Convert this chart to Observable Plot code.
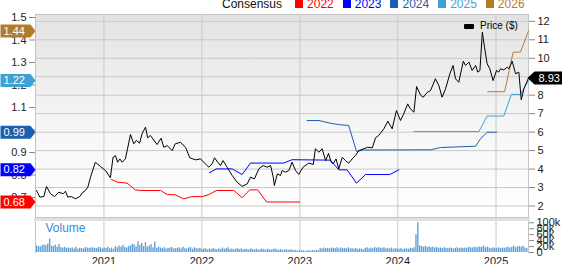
<!DOCTYPE html>
<html><head><meta charset="utf-8">
<script src="https://cdn.jsdelivr.net/npm/d3@7"></script>
<script src="https://cdn.jsdelivr.net/npm/@observablehq/plot@0.6"></script>
<style>
html,body{margin:0;padding:0;background:#fff;}
#chart{position:relative;width:562px;height:264px;overflow:hidden;font-family:"Liberation Sans",Arial,sans-serif;color:#222;}
#chart svg{position:absolute;left:0;top:0;}
.legend{position:absolute;top:-2px;left:222px;font-size:12px;line-height:12px;display:flex;align-items:center;white-space:nowrap;}
.legend .sw{display:inline-block;width:8px;height:8px;margin-right:4px;}
.legend .it{display:flex;align-items:center;margin-right:9px;}
.plegend{position:absolute;left:464px;top:20px;font-size:10px;line-height:12px;display:flex;align-items:center;white-space:nowrap;color:#000;}
.plegend .sw{display:inline-block;width:10px;height:5px;background:#000;margin-right:6px;border-radius:1px;}
</style>
</head><body>
<div id="chart"></div>
<script>
// ---------------- data ----------------
const seriesNames = ["2022","2023","2024","2025","2026"];
const seriesColors = ["#ff0000","#0000ff","#1c5fae","#3ea1d3","#b37c2b"];

const price = [
["2020-04-25",2.84],["2020-05-07",2.48],["2020-05-22",2.51],["2020-06-01",3.06],["2020-06-16",2.66],
["2020-07-01",2.51],["2020-07-17",2.75],["2020-08-02",2.66],["2020-08-11",2.80],["2020-08-19",2.48],
["2020-09-01",2.51],["2020-09-17",2.39],["2020-10-03",2.51],["2020-10-15",2.75],["2020-10-24",2.84],
["2020-11-02",3.02],["2020-11-12",3.56],["2020-11-30",4.37],["2020-12-19",4.14],["2021-01-07",3.92],
["2021-01-25",3.53],["2021-02-04",4.64],["2021-02-13",4.73],["2021-02-21",4.37],["2021-03-01",4.55],
["2021-03-10",4.37],["2021-03-22",4.55],["2021-04-10",5.87],["2021-04-22",5.37],["2021-05-02",5.55],
["2021-05-14",5.40],["2021-05-23",5.91],["2021-06-05",6.27],["2021-06-13",5.69],["2021-06-23",5.82],
["2021-07-18",5.33],["2021-08-02",5.67],["2021-08-12",5.18],["2021-08-25",5.27],["2021-09-12",5.00],
["2021-09-24",5.37],["2021-10-13",5.45],["2021-11-01",5.18],["2021-11-17",4.61],["2021-12-08",4.50],
["2021-12-27",4.55],["2022-01-14",4.28],["2022-01-27",4.10],["2022-02-08",4.28],["2022-02-17",4.61],
["2022-03-01",4.37],["2022-03-11",4.19],["2022-03-21",4.46],["2022-04-05",4.10],["2022-04-24",3.65],
["2022-05-12",3.29],["2022-05-31",3.06],["2022-06-19",3.20],["2022-07-01",3.56],["2022-07-16",3.47],
["2022-08-01",4.01],["2022-08-17",4.19],["2022-09-01",4.10],["2022-09-14",4.19],["2022-09-24",3.56],
["2022-09-28",3.11],["2022-10-09",3.74],["2022-10-21",3.65],["2022-10-27",3.92],["2022-11-08",3.83],
["2022-11-21",3.92],["2022-12-03",4.37],["2022-12-16",3.92],["2022-12-28",3.71],["2023-01-13",4.10],
["2023-02-03",4.32],["2023-02-20",4.25],["2023-02-28",5.10],["2023-03-13",4.91],["2023-03-25",5.10],
["2023-04-07",4.46],["2023-04-18",4.85],["2023-04-27",4.40],["2023-05-05",4.28],["2023-05-16",4.55],
["2023-05-26",4.01],["2023-06-08",4.64],["2023-06-20",4.46],["2023-07-02",4.32],["2023-07-15",4.55],
["2023-07-27",4.73],["2023-08-09",5.00],["2023-08-27",5.10],["2023-09-11",5.18],["2023-09-28",5.15],
["2023-10-10",5.69],["2023-10-22",5.82],["2023-11-10",6.18],["2023-11-25",6.59],["2023-12-11",6.18],
["2023-12-27",7.17],["2024-01-11",6.63],["2024-01-23",6.99],["2024-02-07",7.53],["2024-02-17",7.26],
["2024-03-01",7.08],["2024-03-11",8.47],["2024-03-26",8.00],["2024-04-05",7.89],["2024-04-20",8.16],
["2024-05-02",8.25],["2024-05-20",8.89],["2024-06-02",8.52],["2024-06-14",7.89],["2024-06-27",8.35],
["2024-07-13",9.16],["2024-07-25",9.61],["2024-08-03",8.89],["2024-08-15",8.70],["2024-09-01",9.84],
["2024-09-09",9.61],["2024-09-22",9.79],["2024-10-04",9.34],["2024-10-17",9.61],["2024-10-25",9.25],
["2024-11-02",9.34],["2024-11-11",11.41],["2024-11-19",10.60],["2024-11-29",9.70],["2024-12-09",9.43],
["2024-12-21",8.79],["2025-01-03",9.34],["2025-01-11",9.25],["2025-01-18",9.43],["2025-01-30",9.37],
["2025-02-12",9.52],["2025-02-18",9.43],["2025-03-02",9.84],["2025-03-15",9.16],["2025-03-27",9.25],
["2025-04-05",7.75],["2025-04-15",8.35],["2025-05-02",8.93]
];

const eps2022 = [
["2021-01-29",0.780],["2021-02-21",0.768],["2021-03-28",0.764],["2021-04-28",0.734],["2021-05-17",0.731],
["2021-07-31",0.731],["2021-08-25",0.713],["2021-09-24",0.712],["2021-10-25",0.694],["2021-11-26",0.704],
["2022-01-02",0.704],["2022-01-27",0.713],["2022-02-24",0.731],["2022-04-30",0.731],["2022-05-31",0.699],
["2022-06-28",0.734],["2022-07-28",0.734],["2022-08-30",0.680],["2022-12-31",0.680]
];
const eps2023 = [
["2022-01-29",0.810],["2022-02-24",0.827],["2022-04-24",0.827],["2022-05-31",0.802],["2022-07-01",0.853],
["2022-11-02",0.853],["2022-12-03",0.868],["2023-04-25",0.866],["2023-05-26",0.823],["2023-06-26",0.823],
["2023-07-31",0.764],["2023-09-03",0.802],["2023-12-02",0.802],["2024-01-05",0.823]
];
const eps2024 = [
["2023-01-28",1.042],["2023-03-13",1.042],["2023-04-25",1.030],["2023-05-26",1.024],["2023-07-02",1.020],
["2023-07-31",0.905],["2023-08-27",0.911],["2024-05-02",0.912],["2024-06-08",0.922],["2024-10-17",0.928],
["2024-11-04",0.961],["2024-11-29",0.990],["2025-01-03",0.990]
];
const eps2025 = [
["2024-03-01",0.993],["2024-10-29",0.993],["2024-11-29",1.062],["2025-01-30",1.062],["2025-02-27",1.158],
["2025-04-02",1.158],["2025-05-02",1.220]
];
const eps2026 = [
["2024-12-01",1.170],["2025-02-02",1.170],["2025-03-06",1.346],["2025-04-02",1.346],["2025-05-02",1.440]
];

// weekly volume (thousands), weeks starting 2020-04-24
const volStart = "2020-04-24";
const volumeK = [
22,20,19,24,26,23,28, 45,22,20,25, 18,27,16,15,17, 14,15,13,16, 12,18,11,14, 13,12,17,15,14, 16,15,14,13, 17,16,12,15,
14,18,12,15, 11,20,16,22, 18,24,17,15, 20,22,28,25,19, 36,24,30,20, 33,18,22,26, 16,35,14,18,15, 13,16,12,14, 15,17,12,13, 14,16,12,18,13, 12,15,17,11, 16,13,12,14,10,
11,13,9,12, 10,14,11,9, 12,10,15,11,13, 16,10,12,9, 11,13,10,12, 9,11,10,8,12, 10,9,11,8, 9,12,10,8, 11,9,8,10,12, 9,8,10,7, 8,10,7,9, 8,6,7,5,6,
5,6,4,5, 6,5,7,5, 8,6,14,12,15, 13,14,12,15, 14,13,16,12, 15,13,14,12,16, 12,13,11,14, 10,12,11,9, 14,16,12,15,13, 17,14,16,15, 13,16,12,14, 12,15,11,13,12,
11,13,10,12, 12,11,14,13,16, 60,100,22,20, 18,21,17,19, 16,18,15,17,14, 15,13,16,14, 13,15,14,12, 14,16,13,15,14, 15,14,17,16, 15,18,16,17, 19,17,22,16,18, 15,13,16,14,
14,16,13,15,14, 16,18,15,17, 22,16,19,20, 18,21,15,13
];

const priceTicks = [2,3,4,5,6,7,8,9,10,11,12];
const epsTicks = [0.7,0.8,0.9,1.0,1.1,1.2,1.3,1.4,1.5];
const volTicks = [0,20,40,60,80,100];
const yearTicks = [2021,2022,2023,2024,2025];

// ---------------- setup ----------------
const parse = d3.utcParse("%Y-%m-%d");
const toRows = (arr, key) => arr.map(([d, v]) => ({date: parse(d), [key]: v}));
const priceRows = toRows(price, "price");
const epsSeries = [eps2022, eps2023, eps2024, eps2025, eps2026].map((s, i) => ({
  name: seriesNames[i], color: seriesColors[i], rows: toRows(s, "eps")
}));
const vs = parse(volStart);
const volRows = volumeK.map((v, i) => ({date: d3.utcDay.offset(vs, i * 7), vol: v}));
const yearDates = yearTicks.map(y => new Date(Date.UTC(y, 0, 1)));

const xDomain = [parse("2020-04-21"), parse("2025-05-02")];
const priceDomain = [1.377, 12.37];
const epsDomain = [0.6111, 1.5133];

const W = 562, H = 264;
const FONT = '"Liberation Sans", Arial, sans-serif';
const base = {
  width: W, height: H, marginLeft: 35, marginRight: 34,
  style: {fontFamily: FONT, fontSize: "11px", color: "#222", background: "transparent", overflow: "visible"}
};
const X = {type: "utc", domain: xDomain, axis: null, label: null};

const leftTag = {draw(ctx) {
  ctx.moveTo(-35, -6.5); ctx.lineTo(-5, -6.5); ctx.lineTo(0, 0); ctx.lineTo(-5, 6.5); ctx.lineTo(-35, 6.5); ctx.closePath();
}};
const rightTag = {draw(ctx) {
  ctx.moveTo(-1, 0); ctx.lineTo(6, -6.5); ctx.lineTo(34, -6.5); ctx.lineTo(34, 6.5); ctx.lineTo(6, 6.5); ctx.closePath();
}};

// Layer A: price pane background, grid, right axis
const chartA = Plot.plot({
  ...base, marginTop: 14, marginBottom: 47,
  x: X, y: {domain: priceDomain, axis: null, label: null},
  marks: [
    Plot.frame({fill: "url(#priceBg)"}),
    Plot.gridY(priceTicks, {stroke: "#c9c9c9", strokeOpacity: 1}),
    Plot.gridX(yearDates, {stroke: "#c9c9c9", strokeOpacity: 1}),
    Plot.axisY(priceTicks, {anchor: "right", label: null, tickSize: 6, tickPadding: 3, stroke: "#8a8a8a", fill: "#222"}),
    Plot.frame({stroke: "#c4c4c4"})
  ]
});
const defs = d3.select(chartA).insert("defs", ":first-child");
const grad = defs.append("linearGradient").attr("id", "priceBg").attr("x1", 0).attr("y1", 0).attr("x2", 0).attr("y2", 1);
grad.append("stop").attr("offset", "0%").attr("stop-color", "#e3e3e3");
grad.append("stop").attr("offset", "55%").attr("stop-color", "#f6f6f6");
grad.append("stop").attr("offset", "100%").attr("stop-color", "#ffffff");

// Layer C: volume pane
const chartC = Plot.plot({
  ...base, marginTop: 219, marginBottom: 12,
  x: X, y: {domain: [0, 111], axis: null, label: null},
  marks: [
    Plot.gridX(yearDates, {stroke: "#c9c9c9", strokeOpacity: 1}),
    Plot.rectY(volRows, {x1: "date", x2: d => d3.utcDay.offset(d.date, 5), y: "vol", fill: "#5e9fd8"}),
    Plot.axisY(volTicks, {anchor: "right", label: null, tickSize: 5, tickPadding: 3, stroke: "#8a8a8a", fill: "#222",
      tickFormat: d => d === 0 ? "0" : d + "k"}),
    Plot.axisX(yearDates, {anchor: "bottom", label: null, tickSize: 0, tickPadding: 5, fill: "#222", tickFormat: d3.utcFormat("%Y")}),
    Plot.frame({anchor: "left", stroke: "#c4c4c4"}),
    Plot.frame({anchor: "right", stroke: "#c4c4c4"}),
    Plot.frame({anchor: "top", stroke: "#e0e0e0", strokeWidth: 3}),
    Plot.text(["Volume"], {frameAnchor: "top-left", dx: 10, dy: 4, fill: "#3a8ad0", fontSize: 12, textAnchor: "start"})
  ]
});

// Layer B: consensus lines, left axis, tags
const tagRows = epsSeries.map(s => ({...s.rows[s.rows.length - 1], color: s.color}));
const chartB = Plot.plot({
  ...base, marginTop: 14, marginBottom: 47,
  x: X, y: {domain: epsDomain, axis: null, label: null},
  marks: [
    Plot.axisY(epsTicks, {anchor: "left", label: null, tickSize: 6, tickPadding: 3, stroke: "#8a8a8a", fill: "#222", tickFormat: d3.format(".1f")}),
    ...epsSeries.map(s => Plot.line(s.rows, {x: "date", y: "eps", stroke: s.color, strokeWidth: 1})),
    ...tagRows.map(t => Plot.dot([t], {x: () => xDomain[0], y: "eps", symbol: leftTag, fill: t.color, stroke: "none"})),
    Plot.text(tagRows, {x: () => xDomain[0], y: "eps", text: d => d.eps.toFixed(2), dx: -32, textAnchor: "start", fill: "#fff", fontSize: 11})
  ]
});

// Layer D: price line + last price tag
const last = priceRows[priceRows.length - 1];
const chartD = Plot.plot({
  ...base, marginTop: 14, marginBottom: 47,
  x: X, y: {domain: priceDomain, axis: null, label: null},
  marks: [
    Plot.line(priceRows, {x: "date", y: "price", stroke: "#000", strokeWidth: 1}),
    Plot.dot([last], {x: "date", y: "price", symbol: rightTag, fill: "#000", stroke: "none"}),
    Plot.text([last], {x: "date", y: "price", text: d => d.price.toFixed(2), dx: 10, textAnchor: "start", fill: "#fff", fontSize: 11})
  ]
});

const root = document.getElementById("chart");
[chartA, chartC, chartB, chartD].forEach(c => root.appendChild(c));

// legends
const lg = document.createElement("div");
lg.className = "legend";
lg.innerHTML = '<span style="margin-right:13px;color:#111">Consensus</span>' +
  seriesNames.map((n, i) => `<span class="it"><span class="sw" style="background:${seriesColors[i]}"></span><span style="color:${seriesColors[i]}">${n}</span></span>`).join("");
root.appendChild(lg);
const pl = document.createElement("div");
pl.className = "plegend";
pl.innerHTML = '<span class="sw"></span><span>Price ($)</span>';
root.appendChild(pl);
</script>
</body></html>
